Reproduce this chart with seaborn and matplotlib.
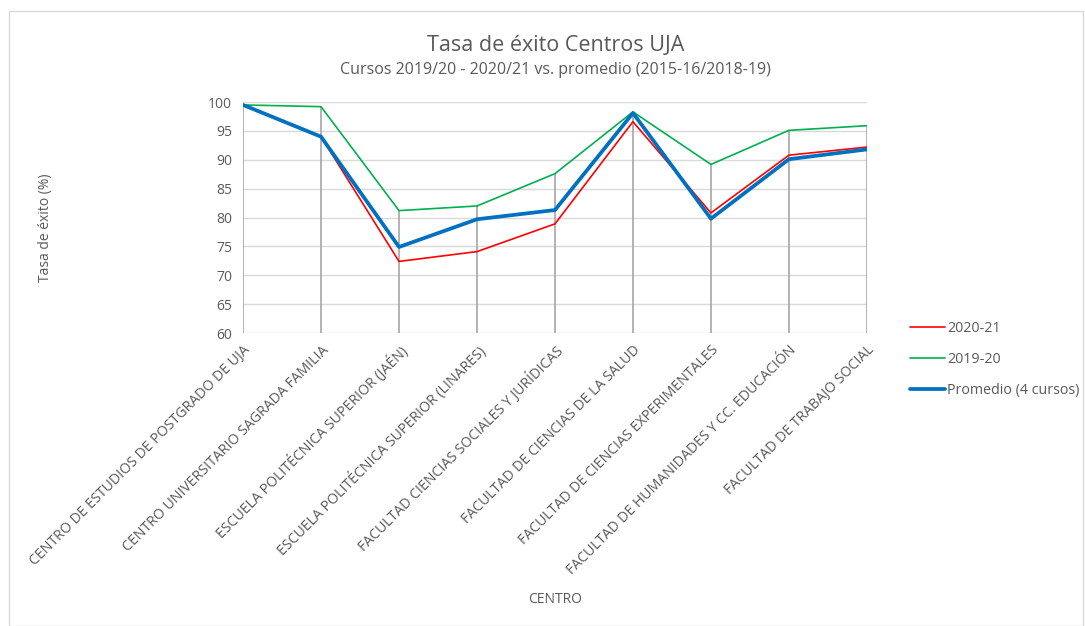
import numpy as np
import pandas as pd
import seaborn as sns
import matplotlib.pyplot as plt

# Categories and series values
centros = [
    "CENTRO DE ESTUDIOS DE POSTGRADO DE UJA",
    "CENTRO UNIVERSITARIO SAGRADA FAMILIA",
    "ESCUELA POLITÉCNICA SUPERIOR (JAÉN)",
    "ESCUELA POLITÉCNICA SUPERIOR (LINARES)",
    "FACULTAD CIENCIAS SOCIALES Y JURÍDICAS",
    "FACULTAD DE CIENCIAS DE LA SALUD",
    "FACULTAD DE CIENCIAS EXPERIMENTALES",
    "FACULTAD DE HUMANIDADES Y CC. EDUCACIÓN",
    "FACULTAD DE TRABAJO SOCIAL",
]
tasa_2020_21 = [99.5, 94.0, 72.4, 74.1, 78.9, 96.6, 80.8, 90.8, 92.2]
tasa_2019_20 = [99.5, 99.2, 81.2, 82.0, 87.6, 98.3, 89.2, 95.1, 95.9]
promedio = [99.5, 94.0, 74.9, 79.7, 81.3, 98.1, 79.8, 90.1, 91.8]

series = ["2020-21", "2019-20", "Promedio (4 cursos)"]
colors = ["#ff0000", "#00b050", "#0070c0"]
widths = [1.2, 1.2, 2.7]

df = pd.DataFrame({"pos": np.arange(len(centros)), "centro": centros,
                   "2020-21": tasa_2020_21, "2019-20": tasa_2019_20,
                   "Promedio (4 cursos)": promedio})

sns.set_style("white")
plt.rcParams["font.family"] = ["Open Sans", "DejaVu Sans"]
txt = "#595959"

fig = plt.figure(figsize=(10.85, 6.26), dpi=100)
ax = fig.add_axes([0.224, 0.468, 0.575, 0.369])

# horizontal gridlines
ax.set_ylim(60, 100)
ax.set_yticks(range(60, 101, 5))
ax.yaxis.grid(True, color="#d9d9d9", linewidth=1.0)
ax.set_axisbelow(True)

# drop lines from highest value to the axis
tops = df[series].max(axis=1)
ax.vlines(df["pos"], 60, tops, color="#a6a6a6", linewidth=1.2, zorder=1)

for s, c, w in zip(series, colors, widths):
    sns.lineplot(data=df, x="pos", y=s, color=c, linewidth=w, label=s, ax=ax, zorder=3)

ax.set_xlim(0, len(centros) - 1)
ax.set_xticks(df["pos"])
ax.set_xticklabels(centros, rotation=45, ha="right", rotation_mode="anchor",
                   fontsize=10.2, color=txt)
ax.tick_params(axis="y", labelsize=10, colors=txt, length=0, pad=8)
ax.tick_params(axis="x", length=0, pad=7)
for sp in ax.spines.values():
    sp.set_visible(False)

ax.set_xlabel("")
ax.set_ylabel("")
fig.text(0.512, 0.042, "CENTRO", ha="center", va="center", fontsize=10, color=txt)
fig.text(0.042, 0.636, "Tasa de éxito (%)", ha="center", va="center",
         rotation=90, fontsize=10, color=txt)

fig.text(0.512, 0.928, "Tasa de éxito Centros UJA", ha="center", va="center",
         fontsize=15.5, color=txt)
fig.text(0.512, 0.888, "Cursos 2019/20 - 2020/21 vs. promedio (2015-16/2018-19)",
         ha="center", va="center", fontsize=11.5, color=txt)

leg = ax.legend(loc="center left", bbox_to_anchor=(0.827, 0.426),
                bbox_transform=fig.transFigure, frameon=False, fontsize=10.3,
                handlelength=2.4, labelspacing=1.1, handletextpad=0.2)
for t in leg.get_texts():
    t.set_color(txt)

# thin chart border
fig.patches.append(plt.Rectangle((0.008, 0.0), 0.99, 0.982, transform=fig.transFigure,
                                 fill=False, edgecolor="#d9d9d9", linewidth=1.0))

fig.savefig("out.png", dpi=100)
